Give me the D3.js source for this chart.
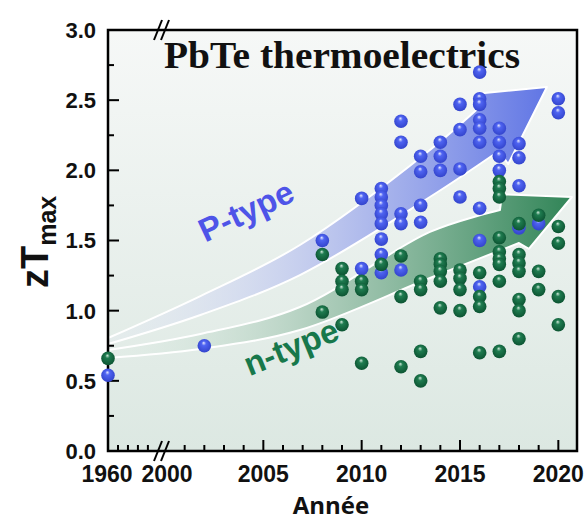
<!DOCTYPE html>
<html><head><meta charset="utf-8">
<script src="https://cdn.jsdelivr.net/npm/d3@7/dist/d3.min.js"></script>
<style>body{margin:0;background:#fff}svg{display:block}</style>
</head><body><svg id="chart" width="585" height="520"></svg>
<script>
// ---------- data ----------
const pYears = [1960, 2002, 2008, 2010, 2010,
  2011, 2011, 2011, 2011, 2011, 2011, 2011, 2011,
  2012, 2012, 2012, 2012, 2012,
  2013, 2013, 2013, 2013,
  2014, 2014, 2014,
  2015, 2015, 2015, 2015,
  2016, 2016, 2016, 2016, 2016, 2016, 2016, 2016, 2016,
  2017, 2017, 2017, 2017,
  2018, 2018, 2018, 2018,
  2019, 2020, 2020];
const pZT = [0.54, 0.75, 1.50, 1.80, 1.30,
  1.87, 1.81, 1.75, 1.69, 1.62, 1.51, 1.40, 1.27,
  2.35, 2.20, 1.69, 1.62, 1.29,
  2.10, 1.99, 1.75, 1.63,
  2.20, 2.10, 2.00,
  2.47, 2.29, 2.01, 1.81,
  2.70, 2.51, 2.47, 2.36, 2.30, 2.20, 1.73, 1.50, 1.17,
  2.30, 2.20, 2.10, 2.00,
  2.19, 2.09, 1.89, 1.59,
  1.62, 2.51, 2.41];
const nYears = [1960, 2008, 2008,
  2009, 2009, 2009, 2009,
  2010, 2010, 2010,
  2011,
  2012, 2012, 2012,
  2013, 2013, 2013, 2013,
  2014, 2014, 2014, 2014, 2014,
  2015, 2015, 2015, 2015,
  2016, 2016, 2016, 2016,
  2017, 2017, 2017, 2017, 2017, 2017, 2017, 2017, 2017,
  2018, 2018, 2018, 2018, 2018, 2018, 2018,
  2019, 2019, 2019,
  2020, 2020, 2020, 2020];
const nZT = [0.66, 1.40, 0.99,
  1.30, 1.21, 1.15, 0.90,
  1.21, 1.15, 0.625,
  1.33,
  1.39, 1.10, 0.60,
  1.21, 1.15, 0.71, 0.50,
  1.37, 1.33, 1.28, 1.21, 1.02,
  1.29, 1.23, 1.15, 1.00,
  1.27, 1.10, 1.03, 0.70,
  1.92, 1.87, 1.81, 1.52, 1.42, 1.37, 1.33, 1.21, 0.71,
  1.62, 1.40, 1.34, 1.28, 1.08, 1.00, 0.80,
  1.68, 1.28, 1.15,
  1.60, 1.48, 1.10, 0.90];

const yTickValues = [0, 0.5, 1.0, 1.5, 2.0, 2.5, 3.0];
const yTickLabels = ["0.0", "0.5", "1.0", "1.5", "2.0", "2.5", "3.0"];
const xTickValues = [1960, 2000, 2005, 2010, 2015, 2020];
const xTickLabels = ["1960", "2000", "2005", "2010", "2015", "2020"];
const titleText = "PbTe thermoelectrics";
const xTitle = "Année";
const pLabel = "P-type";
const nLabel = "n-type";

// trend arrows outlines, in (year, zT) units
const pArrowUpper = [[1960, 0.805], [2001.8, 1.104], [2006.86, 1.468], [2013.47, 2.145], [2016.22, 2.480]];
const pArrowHead = [[2015.85, 2.545], [2019.42, 2.594], [2017.45, 2.045]];
const pArrowLower = [[2016.98, 2.138], [2013.47, 1.810], [2006.86, 1.254], [2001.8, 0.969], [1960, 0.762]];
const nArrowUpper = [[1960, 0.720], [2001.8, 0.834], [2006.86, 1.026], [2013.47, 1.561], [2017.03, 1.717]];
const nArrowHead = [[2017.14, 1.830], [2020.69, 1.810], [2018.5, 1.440]];
const nArrowLower = [[2018.0, 1.482], [2013.47, 1.233], [2006.86, 0.862], [2001.8, 0.727], [1960, 0.663]];

// ---------- layout ----------
const svg = d3.select("#chart");
const L = 108, R = 577, T = 30, B = 451;
const x = d3.scaleLinear().domain([1960, 2000, 2021]).range([L, 165, 578]);
const y = d3.scaleLinear().domain([0, 3]).range([B, T]);

const defs = svg.append("defs");
const bg = defs.append("linearGradient").attr("id", "bg").attr("x1", 0).attr("y1", 0).attr("x2", 0).attr("y2", 1);
bg.append("stop").attr("offset", "0%").attr("stop-color", "#f6f8f7");
bg.append("stop").attr("offset", "100%").attr("stop-color", "#dce8e2");

function arrowGrad(id, c0, c1, c2) {
  const g = defs.append("linearGradient").attr("id", id).attr("gradientUnits", "userSpaceOnUse")
    .attr("x1", L).attr("y1", 0).attr("x2", 560).attr("y2", 0);
  g.append("stop").attr("offset", "0%").attr("stop-color", c0).attr("stop-opacity", 0.2);
  g.append("stop").attr("offset", "45%").attr("stop-color", c1).attr("stop-opacity", 0.85);
  g.append("stop").attr("offset", "100%").attr("stop-color", c2).attr("stop-opacity", 1);
}
arrowGrad("gp", "#e8ebf8", "#bcc5ee", "#5a70e4");
arrowGrad("gn", "#e4efe9", "#a9cab7", "#37885c");

function ballGrad(id, hi, mid, dark) {
  const g = defs.append("radialGradient").attr("id", id).attr("cx", "50%").attr("cy", "45%").attr("r", "55%")
    .attr("fx", "45%").attr("fy", "28%");
  g.append("stop").attr("offset", "0%").attr("stop-color", hi);
  g.append("stop").attr("offset", "30%").attr("stop-color", mid);
  g.append("stop").attr("offset", "100%").attr("stop-color", dark);
}
ballGrad("bp", "#e6e9ff", "#4f64f2", "#3344cc");
ballGrad("bn", "#cfe9da", "#1f7c50", "#0c5432");

// plot background
svg.append("rect").attr("x", L).attr("y", T).attr("width", R - L).attr("height", B - T).attr("fill", "url(#bg)");

// arrows
const line = d3.line().x(d => x(d[0])).y(d => y(d[1])).curve(d3.curveCatmullRom.alpha(0.5));
function arrowPath(up, head, low) {
  return line(up) + head.map(d => `L${x(d[0])},${y(d[1])}`).join("") + line(low).replace(/^M/, "L") + "Z";
}
svg.append("path").attr("d", arrowPath(pArrowUpper, pArrowHead, pArrowLower))
  .attr("fill", "url(#gp)").attr("stroke", "#fff").attr("stroke-width", 2).attr("stroke-linejoin", "round");
svg.append("path").attr("d", arrowPath(nArrowUpper, nArrowHead, nArrowLower))
  .attr("fill", "url(#gn)").attr("stroke", "#fff").attr("stroke-width", 2).attr("stroke-linejoin", "round");

// labels on arrows
svg.append("text").attr("transform", "translate(246,211) rotate(-25)")
  .attr("text-anchor", "middle").attr("dominant-baseline", "central")
  .attr("font-family", "Liberation Sans, Arial, sans-serif").attr("font-weight", "bold").attr("font-size", 33)
  .attr("fill", "#4e54e8").text(pLabel);
svg.append("text").attr("transform", "translate(291,347) rotate(-22)")
  .attr("text-anchor", "middle").attr("dominant-baseline", "central")
  .attr("font-family", "Liberation Sans, Arial, sans-serif").attr("font-weight", "bold").attr("font-size", 33)
  .attr("fill", "#17784b").text(nLabel);

// title
svg.append("text").attr("x", 164).attr("y", 68)
  .attr("font-family", "Liberation Serif, Times New Roman, serif").attr("font-weight", "bold").attr("font-size", 37)
  .attr("textLength", 356).attr("lengthAdjust", "spacingAndGlyphs").attr("fill", "#111").text(titleText);

// axes ticks
const ax = svg.append("g").attr("stroke", "#000").attr("stroke-width", 2);
const yMinor = d3.range(0.25, 3, 0.5);
ax.selectAll(".ymaj").data(yTickValues.slice(1, -1)).join("line")
  .attr("x1", L).attr("x2", L + 11).attr("y1", d => y(d)).attr("y2", d => y(d));
ax.selectAll(".ymin").data(yMinor).join("line").attr("class", "ymin")
  .attr("x1", L).attr("x2", L + 6).attr("y1", d => y(d)).attr("y2", d => y(d));
const xMinorLeft = [1967, 1974, 1981, 1988];
const xYears = d3.range(2001, 2021);
ax.selectAll(".xl").data(xMinorLeft).join("line").attr("class", "xl")
  .attr("x1", d => x(d)).attr("x2", d => x(d)).attr("y1", B).attr("y2", B - 6);
ax.selectAll(".xy").data(xYears).join("line").attr("class", "xy")
  .attr("x1", d => x(d)).attr("x2", d => x(d)).attr("y1", B).attr("y2", d => d % 5 === 0 ? B - 11 : B - 6);

// frame
svg.append("rect").attr("x", L).attr("y", T).attr("width", R - L).attr("height", B - T)
  .attr("fill", "none").attr("stroke", "#000").attr("stroke-width", 2.5);

// axis breaks
const bx = x(2000) - 3;
[T, B].forEach(yy => {
  [-4, 3].forEach(o => {
    svg.append("line").attr("x1", bx + o - 4).attr("y1", yy + 10).attr("x2", bx + o + 4).attr("y2", yy - 10)
      .attr("stroke", "#000").attr("stroke-width", 2);
  });
});

// tick labels
const tickFont = "Liberation Sans, Arial, sans-serif";
svg.append("g").selectAll("text").data(yTickValues).join("text")
  .attr("x", 96).attr("y", d => y(d)).attr("dy", "0.36em").attr("text-anchor", "end")
  .attr("font-family", tickFont).attr("font-weight", "bold").attr("font-size", 22).attr("fill", "#111")
  .text((d, i) => yTickLabels[i]);
svg.append("g").selectAll("text").data(xTickValues).join("text")
  .attr("x", d => x(d) + (d === 1960 ? -1 : d === 2000 ? 2 : 0)).attr("y", 482).attr("text-anchor", "middle")
  .attr("font-family", tickFont).attr("font-weight", "bold").attr("font-size", 23).attr("fill", "#111")
  .text((d, i) => xTickLabels[i]);

// axis titles
svg.append("text").attr("x", 331).attr("y", 514).attr("text-anchor", "middle")
  .attr("font-family", "Open Sans, sans-serif").attr("font-weight", "bold").attr("font-size", 24).attr("fill", "#111")
  .text(xTitle);
const yt = svg.append("text").attr("transform", "translate(48,288) rotate(-90)")
  .attr("font-family", tickFont).attr("font-weight", "bold").attr("fill", "#111");
yt.append("tspan").attr("font-size", 38).text("zT");
yt.append("tspan").attr("font-size", 25).attr("dy", 8).text("max");

// points
const pts = svg.append("g");
pts.selectAll(".p").data(pYears.map((d, i) => [d, pZT[i]])).join("circle").attr("class", "p")
  .attr("cx", d => x(d[0])).attr("cy", d => y(d[1])).attr("r", 6.8).attr("fill", "url(#bp)");
pts.selectAll(".n").data(nYears.map((d, i) => [d, nZT[i]])).join("circle").attr("class", "n")
  .attr("cx", d => x(d[0])).attr("cy", d => y(d[1])).attr("r", 6.8).attr("fill", "url(#bn)");
</script></body></html>
